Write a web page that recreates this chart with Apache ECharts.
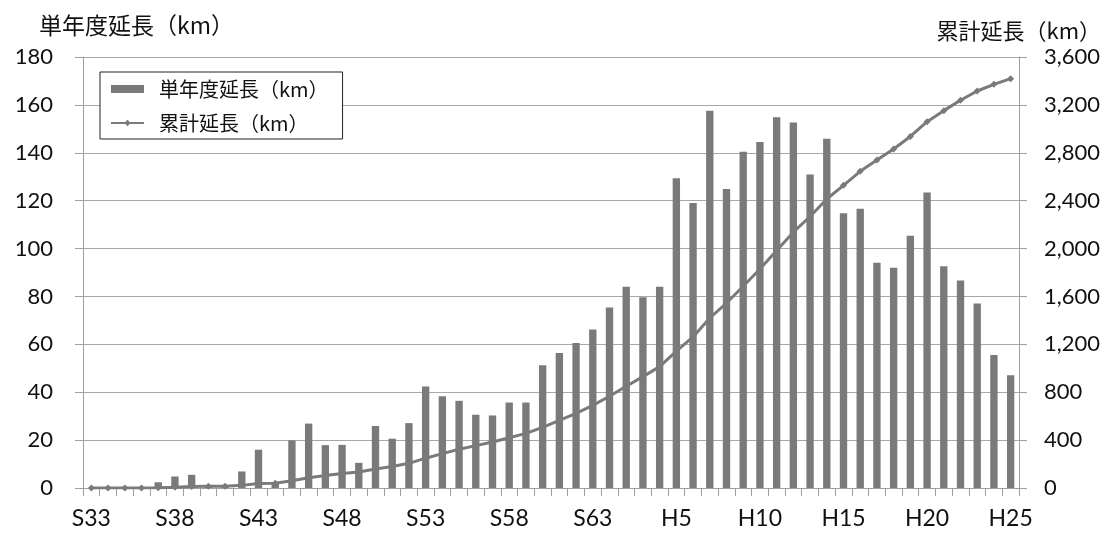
<!DOCTYPE html>
<html><head><meta charset="utf-8">
<script src="https://cdn.jsdelivr.net/npm/echarts@6/dist/echarts.min.js"></script>
<style>html,body{margin:0;padding:0;background:#fff}#c{width:1110px;height:534px}</style>
</head><body><div id="c"></div>
<script>
const categories = ['S33','S34','S35','S36','S37','S38','S39','S40','S41','S42','S43','S44','S45','S46','S47','S48','S49','S50','S51','S52','S53','S54','S55','S56','S57','S58','S59','S60','S61','S62','S63','H1','H2','H3','H4','H5','H6','H7','H8','H9','H10','H11','H12','H13','H14','H15','H16','H17','H18','H19','H20','H21','H22','H23','H24','H25'];
const annual = [0,0,0,0,2.4,4.8,5.5,1,1,6.9,16,2,19.9,26.9,17.9,18,10.5,25.9,20.6,27.1,42.4,38.3,36.4,30.6,30.3,35.7,35.7,51.3,56.4,60.6,66.2,75.4,84.1,79.7,84.1,129.4,119,157.6,124.9,140.4,144.5,154.8,152.6,130.9,145.9,114.7,116.6,94.1,92,105.3,123.4,92.6,86.7,77.1,55.5,47.1];
const cumulative = [0,0,0,0,2,7,13,14,15,22,38,40,60,86,104,122,133,159,179,206,249,287,324,354,384,420,456,507,564,624,690,766,850,930,1014,1143,1262,1420,1545,1685,1829,1984,2137,2268,2414,2528,2645,2739,2831,2936,3060,3152,3239,3316,3372,3419];
const nameA = '単年度延長（km）';
const nameB = '累計延長（km）';

const FONT = 'Lato, "Noto Sans CJK JP", sans-serif';
const JP = '"Noto Sans CJK JP", sans-serif';
const chart = echarts.init(document.getElementById('c'));
chart.setOption({
  animation: false,
  grid: {left: 83, right: 91, top: 57, bottom: 46},
  title: [
    {text: nameA, left: 34, top: 9, textStyle: {fontFamily: JP, fontSize: 23, fontWeight: 'normal', color: '#111'}},
    {text: nameB, right: 4, top: 15, textStyle: {fontFamily: JP, fontSize: 22, fontWeight: 'normal', color: '#111'}}
  ],
  legend: {
    left: 100, top: 72, width: 240, orient: 'vertical',
    padding: [7, 14, 6, 10], itemGap: 14,
    borderColor: '#222', borderWidth: 1, backgroundColor: '#fff',
    itemWidth: 33, itemHeight: 8,
    textStyle: {fontFamily: JP, fontSize: 20, color: '#111', padding: [0, 0, 0, 10]},
    data: [
      {name: nameA, icon: 'rect'},
      {name: nameB}
    ]
  },
  xAxis: {
    type: 'category', data: categories, boundaryGap: true,
    axisLine: {lineStyle: {color: '#a0a0a0', width: 1}},
    axisTick: {show: true, interval: 0, length: 8, lineStyle: {color: '#a0a0a0'}},
    axisLabel: {interval: 4, margin: 19, fontFamily: FONT, fontSize: 23, color: '#111'}
  },
  yAxis: [
    {type: 'value', min: 0, max: 180, interval: 20,
     axisLine: {show: true, lineStyle: {color: '#a0a0a0'}},
     axisTick: {show: true, length: 8, lineStyle: {color: '#a0a0a0'}},
     splitLine: {lineStyle: {color: '#a8a8a8', width: 1}},
     axisLabel: {margin: 30, fontFamily: FONT, fontSize: 22, color: '#111'}},
    {type: 'value', min: 0, max: 3600, interval: 400,
     axisLine: {show: true, lineStyle: {color: '#a0a0a0'}},
     axisTick: {show: true, length: 8, lineStyle: {color: '#a0a0a0'}},
     splitLine: {show: false},
     axisLabel: {margin: 25, fontFamily: FONT, fontSize: 22, color: '#111',
       formatter: v => v.toLocaleString('en-US')}}
  ],
  series: [
    {name: nameA, type: 'bar', data: annual, yAxisIndex: 0, barWidth: '44%',
     itemStyle: {color: '#7a7a7a'}},
    {name: nameB, type: 'line', data: cumulative, yAxisIndex: 1,
     symbol: 'diamond', symbolSize: 7, showSymbol: true,
     lineStyle: {color: '#7a7a7a', width: 3},
     itemStyle: {color: '#7a7a7a'}, z: 5}
  ]
});
</script></body></html>
